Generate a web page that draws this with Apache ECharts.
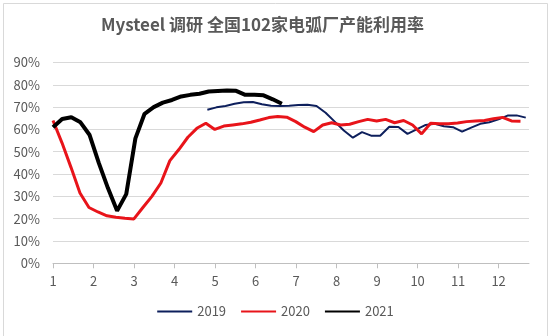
<!DOCTYPE html>
<html>
<head>
<meta charset="utf-8">
<script src="https://cdn.jsdelivr.net/npm/echarts@6/dist/echarts.min.js"></script>
<style>
html,body{margin:0;padding:0;background:#fff;}
#chart{width:550px;height:336px;}
</style>
</head>
<body>
<div id="chart"></div>
<script>
// ---- data ----
var titleText = 'Mysteel 调研 全国102家电弧厂产能利用率';
var monthTicks = [1,2,3,4,5,6,7,8,9,10,11,12];
var yTicks = [0,10,20,30,40,50,60,70,80,90];
var seriesNames = ['2019', '2020', '2021'];

// weekly observations; x = position on month axis (first week, last week)
var start2019 = 4.81, end2019 = 12.67;
var values2019 = [68.8,69.9,70.5,71.5,72.2,72.3,71.3,70.6,70.5,70.6,70.9,71.1,70.5,67.5,63.5,59.5,56.3,58.8,57.2,57.2,61.2,61.1,58.0,60.0,62.0,62.5,61.4,61.0,59.0,60.8,62.5,63.2,64.5,66.2,66.3,65.3];

var start2020 = 1.0, end2020 = 12.54;
var values2020 = [64,54,43,31.5,25,23,21.3,20.6,20.2,19.9,25,30,36,46,51,56.5,60.5,62.8,60,61.5,62,62.5,63.2,64.2,65.3,65.8,65.5,63.5,61,59,62,63,62,62.3,63.5,64.5,63.8,64.5,63,64,62,58,62.8,62.6,62.6,62.9,63.5,63.8,64,64.8,65.4,63.8,63.7];

var start2021 = 1.0, end2021 = 6.65;
var values2021 = [61,64.7,65.5,63.2,57.5,45,33.7,23.5,31,56,67,70,72,73.2,74.8,75.5,76,77,77.2,77.4,77.3,75.5,75.5,75.3,73.5,71.5];

function toPairs(startX, endX, vals) {
  var n = vals.length, step = (endX - startX) / (n - 1);
  return vals.map(function (v, i) { return [startX + i * step, v]; });
}

var chart = echarts.init(document.getElementById('chart'), null, {renderer: 'canvas'});
var textColor = '#595959';
var fontFam = '"Noto Sans CJK SC", "Open Sans", sans-serif';

chart.setOption({
  animation: false,
  backgroundColor: '#ffffff',
  graphic: [{
    type: 'rect', left: 1, top: 1, silent: true,
    shape: {width: 544, height: 333},
    style: {fill: 'none', stroke: '#d9d9d9', lineWidth: 1}
  }],
  title: {
    text: titleText, left: 96, top: 11,
    textStyle: {color: textColor, fontSize: 17, fontWeight: 'bold', fontFamily: fontFam}
  },
  legend: {
    data: seriesNames, left: 'center', top: 300, itemWidth: 35, itemHeight: 10, itemGap: 14,
    itemStyle: {opacity: 0},
    textStyle: {color: textColor, fontSize: 13, fontFamily: fontFam}
  },
  grid: {left: 53, right: 21, top: 62.5, bottom: 72.7, containLabel: false},
  xAxis: {
    type: 'value', min: 1, max: 12.75, interval: 1,
    axisLine: {lineStyle: {color: '#bfbfbf', width: 1}},
    axisTick: {show: true, length: 5, lineStyle: {color: '#bfbfbf'}, customValues: monthTicks},
    axisLabel: {color: textColor, fontSize: 13, margin: 11, fontFamily: fontFam, customValues: monthTicks,
      formatter: function (v) { return String(v); }},
    splitLine: {show: false}
  },
  yAxis: {
    type: 'value', min: 0, max: 90, interval: 10,
    axisLine: {show: false}, axisTick: {show: false},
    axisLabel: {color: textColor, fontSize: 13, margin: 13, fontFamily: fontFam,
      formatter: function (v) { return v + '%'; }},
    splitLine: {lineStyle: {color: '#d9d9d9', width: 1}}
  },
  series: [
    {name: '2019', type: 'line', data: toPairs(start2019, end2019, values2019), symbol: 'none',
      lineStyle: {color: '#0d1f5c', width: 2}, itemStyle: {color: '#0d1f5c'}, z: 2},
    {name: '2020', type: 'line', data: toPairs(start2020, end2020, values2020), symbol: 'none',
      lineStyle: {color: '#e8141a', width: 3}, itemStyle: {color: '#e8141a'}, z: 3},
    {name: '2021', type: 'line', data: toPairs(start2021, end2021, values2021), symbol: 'none',
      lineStyle: {color: '#000000', width: 4}, itemStyle: {color: '#000000'}, z: 4}
  ]
});
</script>
</body>
</html>
